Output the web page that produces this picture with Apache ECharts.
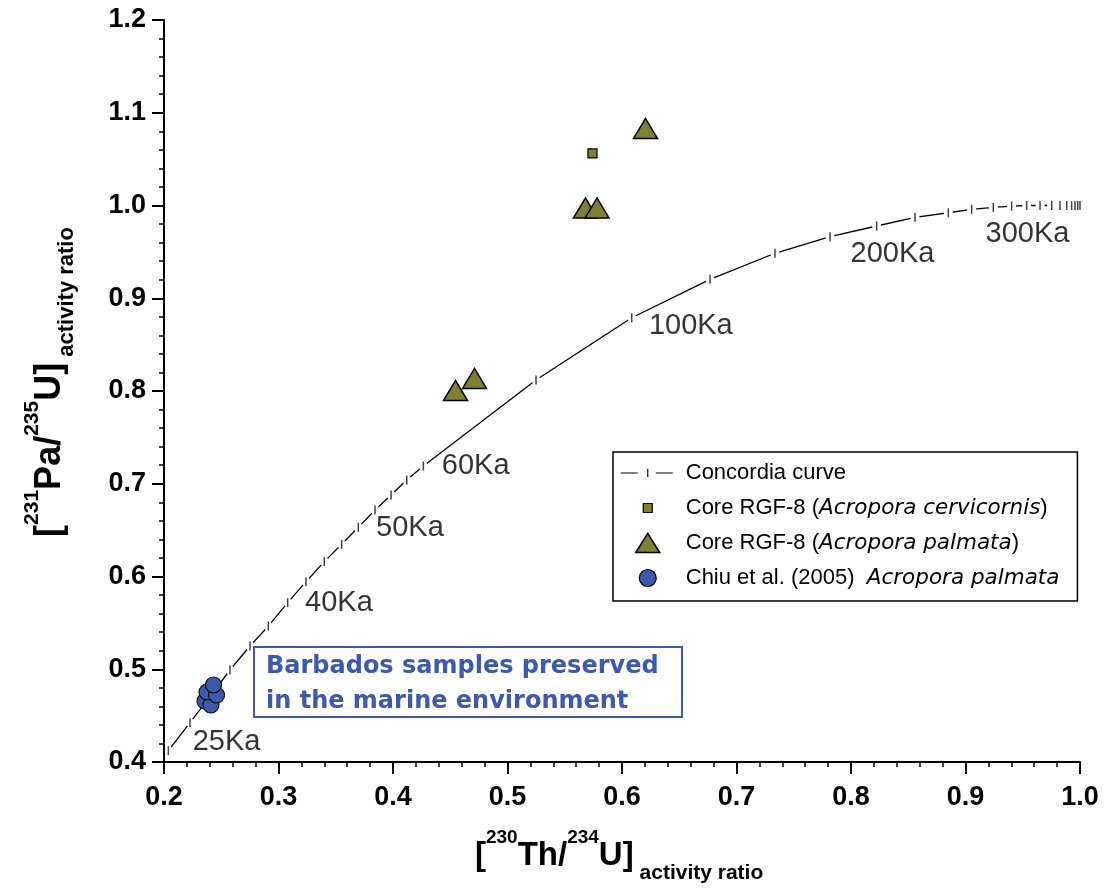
<!DOCTYPE html>
<html>
<head>
<meta charset="utf-8">
<script src="https://cdn.jsdelivr.net/npm/echarts@6/dist/echarts.min.js"></script>
<style>html,body{margin:0;padding:0;background:#fff}#c{width:1107px;height:888px}</style>
</head>
<body>
<div id="c"></div>
<script>
// ---- data ----
const concordiaX = [0.2038, 0.2227, 0.2402, 0.2576, 0.2751, 0.2911, 0.3080, 0.3240, 0.3400, 0.3552, 0.3697, 0.3843, 0.3983, 0.4120, 0.4265,
  0.5249, 0.6085, 0.6769, 0.7336, 0.7817, 0.8224, 0.8559, 0.8850, 0.9054, 0.9243, 0.9403, 0.9534, 0.9651, 0.9753, 0.9825, 0.9884, 0.9927, 0.9956, 0.9980, 1.0000];
const concordiaY = [0.4122, 0.4424, 0.4705, 0.4992, 0.5251, 0.5465, 0.5718, 0.5944, 0.6160, 0.6347, 0.6530, 0.6717, 0.6879, 0.7040, 0.7191,
  0.8119, 0.8790, 0.9204, 0.9485, 0.9664, 0.9779, 0.9873, 0.9922, 0.9959, 0.9980, 0.9994, 1.0000, 1.0000, 1.0000, 1.0000, 1.0000, 1.0000, 1.0000, 1.0000, 1.0000];

const cervicornisX = [0.5742];
const cervicornisY = [1.0561];

const palmataX = [0.4546, 0.4712, 0.5681, 0.5782, 0.6205];
const palmataY = [0.8005, 0.8135, 0.9973, 0.9973, 1.0830];

const chiuX = [0.2358, 0.2410, 0.2376, 0.2459, 0.2432];
const chiuY = [0.4658, 0.4615, 0.4755, 0.4722, 0.4830];

const ageLabelText = ['25Ka', '40Ka', '50Ka', '60Ka', '100Ka', '200Ka', '300Ka'];
const ageLabelX = [0.2546, 0.3528, 0.4148, 0.4722, 0.6601, 0.8362, 0.9541];
const ageLabelY = [0.4221, 0.5709, 0.6520, 0.7191, 0.8703, 0.9475, 0.9691];

const xTickLabels = ['0.2', '0.3', '0.4', '0.5', '0.6', '0.7', '0.8', '0.9', '1.0'];
const yTickLabels = ['0.4', '0.5', '0.6', '0.7', '0.8', '0.9', '1.0', '1.1', '1.2'];

const seriesNames = ['Concordia curve', 'Core RGF-8 (Acropora cervicornis)', 'Core RGF-8 (Acropora palmata)', 'Chiu et al. (2005)  Acropora palmata'];
const legendRich = {
  'Concordia curve': '{n|Concordia curve}',
  'Core RGF-8 (Acropora cervicornis)': '{n|Core RGF-8 (}{i|Acropora cervicornis}{n|)}',
  'Core RGF-8 (Acropora palmata)': '{n|Core RGF-8 (}{i|Acropora palmata}{n|)}',
  'Chiu et al. (2005)  Acropora palmata': '{n|Chiu et al. (2005)  }{i|Acropora palmata}'
};
const annotationText = 'Barbados samples preserved\nin the marine environment';

// ---- build ----
const zip = (xs, ys) => xs.map((x, i) => [x, ys[i]]);
const OLIVE = '#808035';
const BLUE = '#3d59ab';
const AX_FONT = 'Liberation Sans, Arial, sans-serif';
const WIDE_FONT = '"DejaVu Sans", Verdana, sans-serif';

const chart = echarts.init(document.getElementById('c'), null, {renderer: 'canvas'});

const legendIcons = {
  line: 'path://M0 0 M60 20 M0 9.4 H17 V10.6 H0 Z M26.4 6 H27.6 V14 H26.4 Z M35 9.4 H52 V10.6 H35 Z',
  square: 'path://M0 0 M60 20 M22.5 5.5 H31.5 V14.5 H22.5 Z',
  triangle: 'path://M0 0 M60 20 M27 0.5 L39 19.5 L15 19.5 Z',
  circle: 'path://M0 0 M60 20 M18.5 10 A8.5 8.5 0 1 0 35.5 10 A8.5 8.5 0 1 0 18.5 10 Z'
};

const titleRich = (main, sup, sub) => ({
  b: {fontFamily: AX_FONT, fontWeight: 'bold', fontSize: main, lineHeight: 56, fill: '#000', color: '#000'},
  s: {fontFamily: AX_FONT, fontWeight: 'bold', fontSize: sup, lineHeight: sup, verticalAlign: 'top', fill: '#000', color: '#000'},
  u: {fontFamily: AX_FONT, fontWeight: 'bold', fontSize: sub, lineHeight: sub, verticalAlign: 'bottom', fill: '#000', color: '#000'}
});

const option = {
  animation: false,
  backgroundColor: '#fff',
  grid: {left: 164, right: 27, top: 20, bottom: 126, containLabel: false},
  xAxis: {
    type: 'value', min: 0.2, max: 1.0, interval: 0.1, z: 5,
    axisLine: {lineStyle: {color: '#000', width: 2}},
    axisTick: {length: 12, lineStyle: {color: '#000', width: 2}},
    minorTick: {show: true, splitNumber: 5, length: 5, lineStyle: {color: '#000', width: 1.5}},
    splitLine: {show: false},
    axisLabel: {margin: 22, color: '#000', fontFamily: AX_FONT, fontWeight: 'bold', fontSize: 27,
      formatter: (v, i) => xTickLabels[i]}
  },
  yAxis: {
    type: 'value', min: 0.4, max: 1.2, interval: 0.1, z: 5,
    axisLine: {show: true, lineStyle: {color: '#000', width: 2}},
    axisTick: {show: true, length: 12, lineStyle: {color: '#000', width: 2}},
    minorTick: {show: true, splitNumber: 5, length: 5, lineStyle: {color: '#000', width: 1.5}},
    splitLine: {show: false},
    axisLabel: {margin: 18, color: '#000', fontFamily: AX_FONT, fontWeight: 'bold', fontSize: 27,
      formatter: (v, i) => yTickLabels[i]}
  },
  legend: {
    orient: 'vertical', left: 613, top: 452,
    itemWidth: 60, itemHeight: 20, itemGap: 13,
    padding: [10, 18, 12, 7],
    borderColor: '#000', borderWidth: 1.5, backgroundColor: '#fff',
    selectedMode: false,
    textStyle: {
      color: '#000', fontFamily: AX_FONT, fontSize: 22,
      rich: {
        n: {fontFamily: AX_FONT, fontSize: 22, color: '#000'},
        i: {fontFamily: WIDE_FONT, fontSize: 21.5, color: '#000', fontStyle: 'italic'}
      }
    },
    formatter: name => legendRich[name],
    data: [
      {name: seriesNames[0], icon: legendIcons.line, itemStyle: {color: '#000', borderWidth: 0}},
      {name: seriesNames[1], icon: legendIcons.square, itemStyle: {color: OLIVE, borderColor: '#000', borderWidth: 1.2}},
      {name: seriesNames[2], icon: legendIcons.triangle, itemStyle: {color: OLIVE, borderColor: '#000', borderWidth: 1.5}},
      {name: seriesNames[3], icon: legendIcons.circle, itemStyle: {color: BLUE, borderColor: '#000', borderWidth: 1.2}}
    ]
  },
  graphic: [
    {
      type: 'text', x: 475, y: 856, z: 10,
      style: {
        text: '{b|[}{s|230}{b|Th/}{s|234}{b|U]}{u| activity ratio}',
        align: 'left', verticalAlign: 'middle',
        rich: titleRich(33, 19, 21)
      }
    },
    {
      type: 'text', x: 50, y: 382, rotation: Math.PI / 2, z: 10,
      style: {
        text: '{b|[}{s|231}{b|Pa/}{s|235}{b|U]}{u| activity ratio}',
        align: 'center', verticalAlign: 'middle',
        rich: titleRich(36, 21, 22)
      }
    },
    {
      type: 'rect', z: 8,
      shape: {x: 254, y: 647, width: 428, height: 70},
      style: {fill: '#fff', stroke: BLUE, lineWidth: 2}
    },
    {
      type: 'text', x: 266, y: 684, z: 9,
      style: {
        text: annotationText, fill: BLUE, align: 'left', verticalAlign: 'middle',
        font: 'bold 24px "DejaVu Sans", Verdana, sans-serif', lineHeight: 35
      }
    }
  ],
  series: [
    {
      name: seriesNames[0], type: 'line', z: 2, silent: true,
      data: zip(concordiaX, concordiaY),
      symbol: 'circle', symbolSize: 9, showSymbol: true,
      itemStyle: {color: '#fff', borderWidth: 0},
      lineStyle: {color: '#000', width: 1.3},
      emphasis: {disabled: true}
    },
    {
      name: 'concordia ticks', type: 'scatter', z: 3, silent: true,
      data: zip(concordiaX, concordiaY),
      symbol: 'path://M0 0 H1 V8 H0 Z', symbolSize: [1.5, 9],
      itemStyle: {color: '#111'},
      emphasis: {disabled: true}
    },
    {
      name: 'age labels', type: 'scatter', z: 4, silent: true,
      data: ageLabelText.map((t, i) => ({name: t, value: [ageLabelX[i], ageLabelY[i]]})),
      symbolSize: 0,
      label: {show: true, position: 'inside', formatter: p => p.name, color: '#000',
        fontFamily: AX_FONT, fontSize: 29}
    },
    {
      name: seriesNames[1], type: 'scatter', z: 6, silent: true,
      data: zip(cervicornisX, cervicornisY),
      symbol: 'rect', symbolSize: 9,
      itemStyle: {color: OLIVE, borderColor: '#000', borderWidth: 1.2, opacity: 1}
    },
    {
      name: seriesNames[2], type: 'scatter', z: 6, silent: true,
      data: zip(palmataX, palmataY),
      symbol: 'triangle', symbolSize: [24, 20],
      itemStyle: {color: OLIVE, borderColor: '#000', borderWidth: 1.5, opacity: 1}
    },
    {
      name: seriesNames[3], type: 'scatter', z: 6, silent: true,
      data: zip(chiuX, chiuY),
      symbol: 'circle', symbolSize: 16,
      itemStyle: {color: BLUE, borderColor: '#111', borderWidth: 1.2, opacity: 1}
    }
  ]
};
chart.setOption(option);
</script>
</body>
</html>
